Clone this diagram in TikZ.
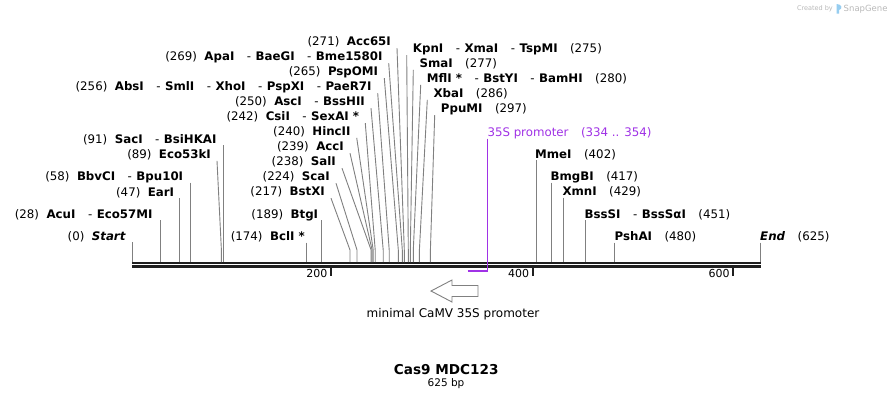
\documentclass[tikz,border=0pt]{standalone}
\usepackage{fontspec}
\setmainfont{DejaVu Sans}
\definecolor{sitegray}{RGB}{128,128,128}
\definecolor{promo}{RGB}{160,50,230}
\definecolor{wmgray}{RGB}{185,185,185}
\definecolor{wmblue}{RGB}{150,205,240}
\newcommand\enz[1]{\textbf{#1}}
\newcommand\gap{\hspace{7.5pt}}
\newcommand\ngap{\hspace{12.5pt}}
\newcommand\dsh{\hspace{12.5pt}-\hspace{4.5pt}}
% left-side label with slanted connector
\newcommand\slantL[5]{%
  \node[labL] (l#1) at (#3,#4) {#5};
  \coordinate (s#1) at (#2,262);
  \draw[site] ([shift={(6pt,-2.5pt)}]l#1.base east) -- ([yshift=12pt]s#1) -- (s#1);}
\newcommand\slantR[5]{%
  \node[labR] (l#1) at (#3,#4) {#5};
  \coordinate (s#1) at (#2,262);
  \draw[site] ([shift={(-6pt,-2.5pt)}]l#1.base west) -- ([yshift=12pt]s#1) -- (s#1);}
\newcommand\vertL[5]{%
  \node[labL] (l#1) at (#3,#4) {#5};
  \coordinate (s#1) at (#2,262);
  \draw[site] (s#1 |- l#1.base) ++(0,2) -- (s#1);}
\newcommand\vertR[5]{%
  \node[labR] (l#1) at (#3,#4) {#5};
  \coordinate (s#1) at (#2,262);
  \draw[site] (s#1 |- l#1.base) ++(0,2) -- (s#1);}
\tikzset{
  lab/.style={inner sep=0pt, font=\fontsize{11.8}{13}\selectfont},
  labL/.style={lab, anchor=base east},
  labR/.style={lab, anchor=base west},
  site/.style={draw=sitegray, line width=0.9pt},
  seqline/.style={line width=2.5pt, draw=black!88},
  tickmark/.style={line width=1.8pt, draw=black!88},
  ticklab/.style={inner sep=0pt, anchor=base east, font=\fontsize{11}{13}\selectfont},
  dirarrow/.style={draw=gray, line width=0.9pt, fill=white},
}
\begin{document}
\begin{tikzpicture}[x=1pt,y=-1pt]
\useasboundingbox (0,0) rectangle (893,400);
\fill[white] (0,0) rectangle (893,400);

% watermark
\node[inner sep=0pt, anchor=base east, text=wmgray, font=\fontsize{6.5}{8}\selectfont] (wmA) at (833,10.5) {Created by};
\fill[wmblue] (836.5,4) .. controls (842,4) and (843,9) .. (839,10) -- (839,13.5) -- (836.5,13.5) -- cycle;
\node[inner sep=0pt, anchor=base west, text=wmgray, font=\fontsize{8.5}{10}\selectfont] (wmB) at (843.5,11) {SnapGene};

% sequence
\coordinate (seqA) at (132,263);
\coordinate (seqB) at (760.7,263);
\draw[seqline] (seqA) -- (seqB);
\draw[seqline, line width=2.4pt] ([yshift=-3.6pt]seqA) -- ([yshift=-3.6pt]seqB);

% ticks
\foreach \tx/\tl in {331/200, 532.7/400, 733.3/600}{
  \draw[tickmark] (\tx,266.5) -- (\tx,276);
  \node[ticklab] at (\tx-3.5,277.5) {\tl};
}

% left slanted
\slantL{Acc}{404.3}{391}{45.7}{(271)\gap\enz{Acc65I}}
\slantL{Apa}{402.3}{382.7}{60.7}{(269)\gap\enz{ApaI}\dsh\enz{BaeGI}\dsh\enz{Bme1580I}}
\slantL{Psp}{398.3}{378.3}{75.7}{(265)\gap\enz{PspOMI}}
\slantL{Abs}{389.2}{371.7}{90.7}{(256)\gap\enz{AbsI}\dsh\enz{SmlI}\dsh\enz{XhoI}\dsh\enz{PspXI}\dsh\enz{PaeR7I}}
\slantL{Asc}{383.2}{365}{105.7}{(250)\gap\enz{AscI}\dsh\enz{BssHII}}
\slantL{Csi}{375.2}{359.3}{120.7}{(242)\gap\enz{CsiI}\dsh\enz{SexAI *}}
\slantL{Hinc}{373.2}{350.7}{135.3}{(240)\gap\enz{HincII}}
\slantL{AccI}{372.1}{344}{150.7}{(239)\gap\enz{AccI}}
\slantL{Sal}{371.1}{336}{165.7}{(238)\gap\enz{SalI}}
\slantL{Sca}{357}{330}{180.7}{(224)\gap\enz{ScaI}}
\slantL{BstX}{350}{325}{195.7}{(217)\gap\enz{BstXI}}
\slantL{Ecok}{221.4}{211}{158.3}{(89)\gap\enz{Eco53kI}}

% left vertical
\vertL{Start}{132}{126}{240.3}{(0)\gap\textbf{\textit{Start}}}
\vertL{Acu}{160.1}{152.7}{218.3}{(28)\gap\enz{AcuI}\dsh\enz{Eco57MI}}
\vertL{Ear}{179.2}{174.3}{196}{(47)\gap\enz{EarI}}
\vertL{Bbv}{190.3}{183.3}{180.7}{(58)\gap\enz{BbvCI}\dsh\enz{Bpu10I}}
\vertL{Sac}{223.4}{216.7}{143.3}{(91)\gap\enz{SacI}\dsh\enz{BsiHKAI}}
\vertL{Bcl}{306.8}{305}{240.7}{(174)\gap\enz{BclI *}}
\vertL{Btg}{321.9}{318.3}{218.3}{(189)\gap\enz{BtgI}}

% right slanted
\slantR{Kpn}{408.3}{412.7}{52.7}{\enz{KpnI}\dsh\enz{XmaI}\dsh\enz{TspMI}\ngap(275)}
\slantR{Sma}{410.3}{419.3}{67.3}{\enz{SmaI}\ngap(277)}
\slantR{Mfl}{413.3}{426.7}{82.3}{\enz{MflI *}\dsh\enz{BstYI}\dsh\enz{BamHI}\ngap(280)}
\slantR{Xba}{419.4}{433.3}{97.3}{\enz{XbaI}\ngap(286)}
\slantR{Ppu}{430.4}{440.7}{112.7}{\enz{PpuMI}\ngap(297)}

% right vertical
\vertR{Mme}{536}{535}{158.3}{\enz{MmeI}\ngap(402)}
\vertR{Bmg}{551}{550.5}{180.7}{\enz{BmgBI}\ngap(417)}
\vertR{Xmn}{563.1}{562.3}{195.7}{\enz{XmnI}\ngap(429)}
\vertR{BssS}{585.2}{584.5}{218.3}{\enz{BssSI}\dsh\enz{BssSαI}\ngap(451)}
\vertR{Psh}{614.3}{614.5}{240.7}{\enz{PshAI}\ngap(480)}
\vertR{End}{760.2}{760}{240.7}{\textbf{\textit{End}}\ngap(625)}

% promoter feature
\node[labR, text=promo] (lProm) at (487.3,136) {35S promoter\ngap(334 .. 354)};
\coordinate (promL) at (467.6,270.6);
\coordinate (promR) at (487.7,270.6);
\draw[promo, line width=1.8pt] (promL) -- (promR);
\draw[promo, line width=1.1pt] (promR |- lProm.base) ++(0,2.5) -- ([yshift=0.9pt]promR);

% direction arrow
\draw[dirarrow] (478,285.5) -- (452,285.5) -- (452,280) -- (431,291) -- (452,302) -- (452,296.5) -- (478,296.5) -- cycle;
\node[inner sep=0pt, anchor=base, font=\fontsize{12}{14}\selectfont] (minprom) at (453,317.5) {minimal CaMV 35S promoter};

% title
\node[inner sep=0pt, anchor=base, font=\fontsize{13.6}{16}\selectfont\bfseries] (title) at (446.2,374) {Cas9 MDC123};
\node[inner sep=0pt, anchor=base, font=\fontsize{10.5}{12}\selectfont] (bp) at (446,386.7) {625 bp};
\end{tikzpicture}
\end{document}
